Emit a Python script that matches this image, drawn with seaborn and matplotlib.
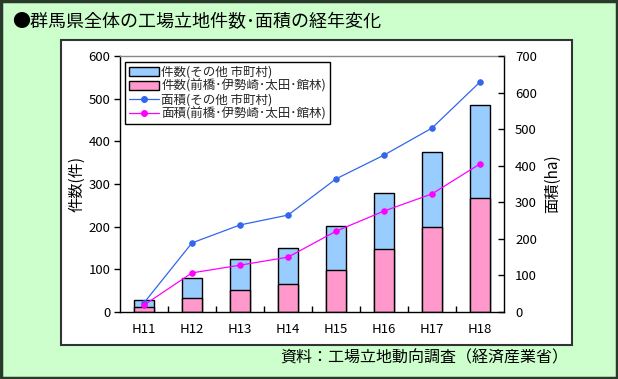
import matplotlib
matplotlib.use("Agg")
import matplotlib.pyplot as plt
import seaborn as sns
import pandas as pd
import numpy as np
from matplotlib.patches import Rectangle, Patch
from matplotlib.lines import Line2D

years = ["H11", "H12", "H13", "H14", "H15", "H16", "H17", "H18"]
count_total = [28, 80, 124, 150, 202, 279, 375, 485]
count_main = [12, 33, 52, 66, 98, 148, 199, 267]
area_other = [25, 189, 238, 265, 364, 429, 503, 629]
area_main = [19, 107, 128, 150, 221, 276, 323, 405]

lbl_bar_other = "件数(その他 市町村)"
lbl_bar_main = "件数(前橋･伊勢崎･太田･館林)"
lbl_line_other = "面積(その他 市町村)"
lbl_line_main = "面積(前橋･伊勢崎･太田･館林)"
title = "●群馬県全体の工場立地件数･面積の経年変化"
source = "資料：工場立地動向調査（経済産業省）"

df = pd.DataFrame({"year": years, "total": count_total, "main": count_main,
                   "a_other": area_other, "a_main": area_main})

sns.set_theme(style="white")
plt.rcParams['font.family'] = ['Noto Sans CJK JP', 'DejaVu Sans']

W, H = 618, 379
fig = plt.figure(figsize=(W/100, H/100), dpi=100, facecolor="#CCFFCC")

# white panel
fig.patches.append(Rectangle((61/W, 1-345/H), (572-61)/W, (345-40)/H, transform=fig.transFigure,
                             facecolor="white", edgecolor="#333333", lw=1.5, zorder=-10))
# outer border
fig.patches.append(Rectangle((0.002, 0.003), 0.996, 0.994, transform=fig.transFigure,
                             facecolor="none", edgecolor="#2a3a2a", lw=2.5, zorder=-10))

ax = fig.add_axes([120/W, 1-312/H, (504-120)/W, (312-56)/H])
ax.set_facecolor("white")
c_blue_bar = "#99CCFF"
c_pink_bar = "#FF99CC"
c_blue_line = "#3366EE"
c_mag_line = "#FF00FF"

sns.barplot(data=df, x="year", y="total", color=c_blue_bar, width=0.4, edgecolor="black",
            linewidth=1, saturation=1, ax=ax)
sns.barplot(data=df, x="year", y="main", color=c_pink_bar, width=0.4, edgecolor="black",
            linewidth=1, saturation=1, ax=ax)
ax.set_ylim(0, 600)
ax.set_yticks(np.arange(0, 601, 100))
ax.set_xlim(-0.5, 7.5)
ax.set_xlabel("")
ax.set_ylabel("件数(件)", fontsize=11, color="black", labelpad=2)
ax.tick_params(axis="y", direction="out", length=4, width=1, colors="black", labelsize=9.5, left=True, pad=3)
ax.tick_params(axis="x", which="major", length=0, labelsize=9.5, colors="black", pad=8)
ax.set_xticks(np.arange(0.5, 7.5, 1), minor=True)
ax.tick_params(axis="x", which="minor", direction="in", length=4, width=1, color="black", bottom=True)
for s in ["left", "bottom", "right"]:
    ax.spines[s].set_color("black")
    ax.spines[s].set_linewidth(1)
ax.spines["top"].set_color("#888888")
ax.spines["top"].set_linewidth(1)

ax2 = ax.twinx()
sns.pointplot(data=df, x="year", y="a_other", color=c_blue_line, markers="o", markersize=4,
              linewidth=0.9, ax=ax2)
sns.pointplot(data=df, x="year", y="a_main", color=c_mag_line, markers="o", markersize=4,
              linewidth=0.9, ax=ax2)
ax2.set_xlim(-0.5, 7.5)
ax2.set_ylim(0, 700)
ax2.set_yticks(np.arange(0, 701, 100))
ax2.set_ylabel("面積(ha)", fontsize=11, color="black", rotation=90, labelpad=5)
ax2.tick_params(axis="y", direction="in", length=4, width=1, colors="black", labelsize=9.5, right=True, pad=8)
ax2.grid(False)
ax.grid(False)
for s in ax2.spines.values():
    s.set_visible(False)

handles = [Patch(facecolor=c_blue_bar, edgecolor="black", lw=1),
           Patch(facecolor=c_pink_bar, edgecolor="black", lw=1),
           Line2D([], [], color=c_blue_line, marker="o", markersize=4, lw=0.9),
           Line2D([], [], color=c_mag_line, marker="o", markersize=4, lw=0.9)]
labels = [lbl_bar_other, lbl_bar_main, lbl_line_other, lbl_line_main]
leg = ax2.legend(handles, labels, loc="upper left", bbox_to_anchor=(0.013, 0.977), borderaxespad=0,
                 fontsize=9, frameon=True, fancybox=False, framealpha=1, edgecolor="black",
                 handlelength=2.4, handleheight=0.8, handletextpad=0.2, labelspacing=0.05,
                 borderpad=0.3)
leg.get_frame().set_linewidth(1)
leg.set_zorder(10)

fig.text(12/W, 1-22/H, title, fontsize=13, va="center", ha="left", color="black")
fig.text(568/W, 1-358/H, source, fontsize=11.5, va="center", ha="right", color="black")

fig.savefig("out.png", dpi=100, facecolor=fig.get_facecolor())
